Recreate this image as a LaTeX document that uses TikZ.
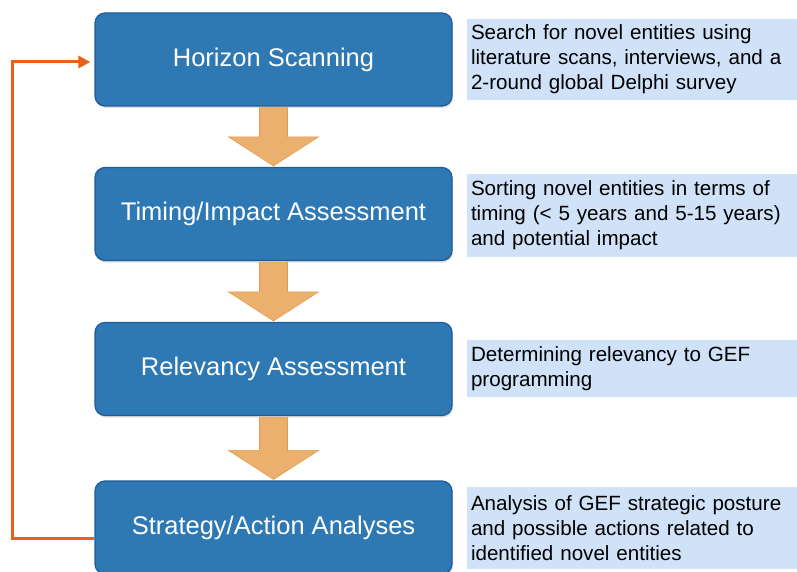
\documentclass[tikz,border=0pt]{standalone}
\usepackage{fontspec}
\setmainfont{Liberation Sans}
\usetikzlibrary{calc,arrows.meta,shadows}

\definecolor{stepblue}{HTML}{2E78B4}
\definecolor{stepedge}{HTML}{1D5C98}
\definecolor{notefill}{HTML}{CFE2F7}
\definecolor{flowfill}{HTML}{EBB06E}
\definecolor{flowedge}{HTML}{E39C4C}
\definecolor{loopline}{HTML}{E8601C}

% block arrow from one stage down to the next
\newcommand{\stagearrow}[2]{%
	\path ($(#1.south)+(0,1)$) coordinate (#1-top)
		($(#2.north)+(0,-1)$) coordinate (#1-tip);
	\filldraw[flowarrow] ($(#1-top)+(-14,0)$) -- ($(#1-top)+(14,0)$)
		-- ($(#1-tip)+(14,-29)$) -- ($(#1-tip)+(45,-29)$) -- (#1-tip)
		-- ($(#1-tip)+(-45,-29)$) -- ($(#1-tip)+(-14,-29)$) -- cycle;
}

\begin{document}
\begin{tikzpicture}[x=1pt, y=-1pt,
	stage/.style		= {draw=stepedge, line width=1.2pt, fill=stepblue,
		rounded corners=10pt, minimum width=357pt, minimum height=93pt,
		text=white, font=\fontsize{25.5}{30}\selectfont,
		drop shadow={opacity=0.25, shadow xshift=1pt, shadow yshift=-2pt}},
	note/.style			= {fill=notefill, text width=322pt, inner xsep=4pt,
		align=left, font=\fontsize{20.6}{25}\selectfont},
	flowarrow/.style	= {fill=flowfill, draw=flowedge, line width=0.6pt},
	feedback/.style		= {draw=loopline, line width=3pt,
		-{Triangle[length=12pt,width=12pt]}}]
				%\draw[help lines] (0,0) grid (797,572);
				\useasboundingbox (0,0) rectangle (797,572);
				
				% stages
				\node[stage] (hs)  at (273.5,59.5) {Horizon Scanning};
				\node[stage] (tia) at (273.5,214)  {Timing/Impact Assessment};
				\node[stage] (ra)  at (273.5,369)  {Relevancy Assessment};
				\node[stage] (saa) at (273.5,527.5) {Strategy/Action Analyses};
				
				% notes
				\node[note, minimum height=81pt] (hsnote)  at (632,59.5)
					{Search for novel entities using\\literature scans, interviews, and a\\2-round global Delphi survey};
				\node[note, minimum height=83pt] (tianote) at (632,215.5)
					{Sorting novel entities in terms of\\timing (< 5 years and 5-15 years)\\and potential impact};
				\node[note, minimum height=57pt] (ranote)  at (632,368.5)
					{Determining relevancy to GEF\\programming};
				\node[note, minimum height=82pt] (saanote) at (632,528)
					{Analysis of GEF strategic posture\\and possible actions related to\\identified novel entities};
				
				\stagearrow{hs}{tia}
				\stagearrow{tia}{ra}
				\stagearrow{ra}{saa}
				
				% back to the start
				\coordinate (loop) at (12,538);
				\draw[feedback] ([yshift=-10.5pt]saa.west) -- (loop) |- ([xshift=-4pt,yshift=-2.5pt]hs.west);
\end{tikzpicture}
\end{document}
